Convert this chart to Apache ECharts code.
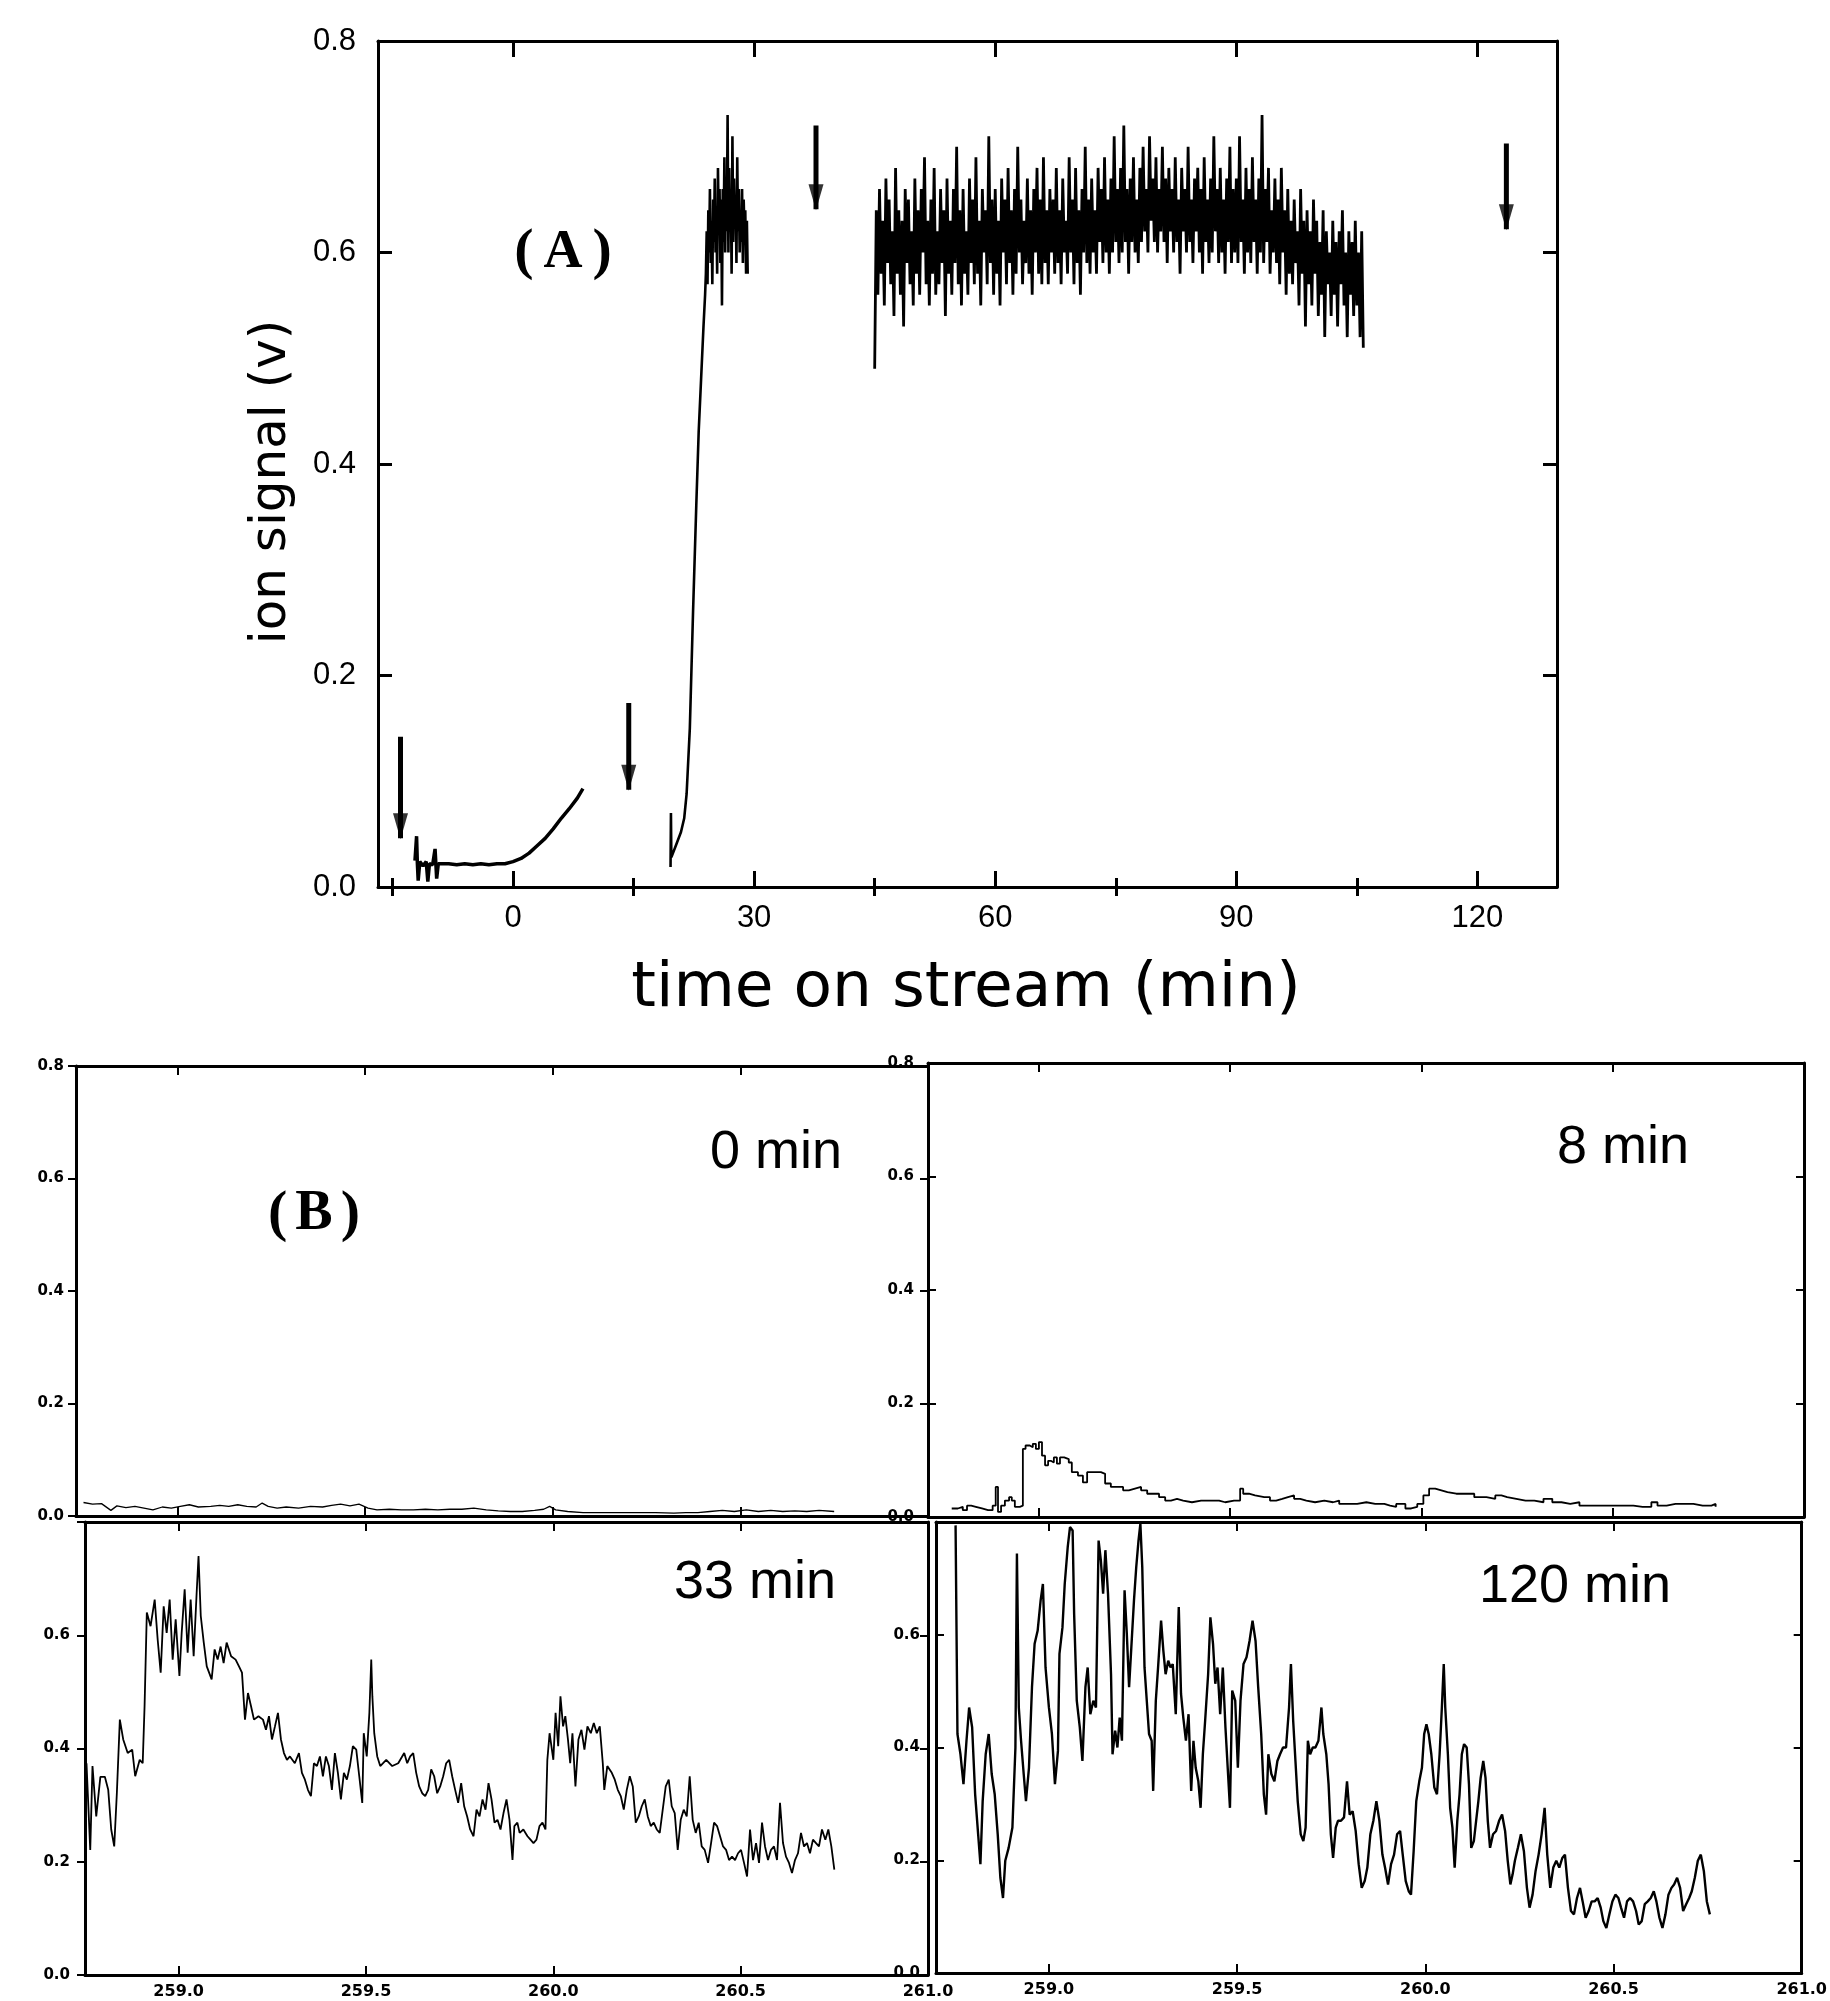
<!DOCTYPE html>
<html><head><meta charset="utf-8">
<script src="https://cdn.jsdelivr.net/npm/echarts@6/dist/echarts.min.js"></script>
<style>html,body{margin:0;padding:0;background:#fff}#c{width:1830px;height:2001px}</style>
</head><body><div id="c"></div>
<script>
// ---------- Panel A data (time on stream, min ; ion signal, V) ----------
const aMajorTicks = [0, 30, 60, 90, 120];
const aMinorTicks = [-15, 15, 45, 75, 105];
const aYTicks = [0, 0.2, 0.4, 0.6, 0.8];
const aLow = [[-12.2,0.025],[-12.0,0.048],[-11.9,0.022],[-11.8,0.006],[-11.6,0.024],[-11.2,0.020],[-10.8,0.024],[-10.6,0.005],[-10.4,0.022],[-10.0,0.021],[-9.7,0.036],[-9.5,0.008],[-9.3,0.022],[-8,0.022],[-7,0.021],[-6,0.022],[-5,0.021],[-4,0.022],[-3,0.021],[-2,0.022],[-1,0.022],[0,0.024],[1,0.027],[2,0.032],[3,0.039],[4,0.046],[5,0.055],[6,0.065],[7,0.074],[8,0.084],[8.7,0.093]];
const aRise = [[19.6,0.019],[19.65,0.07],[19.7,0.028],[20.3,0.04],[20.9,0.052],[21.3,0.065],[21.6,0.088],[22.0,0.15],[22.4,0.26],[22.8,0.36],[23.1,0.43],[23.4,0.48],[23.7,0.53],[23.9,0.56],[24.0,0.58],
[24.1,0.62],[24.2,0.57],[24.3,0.64],[24.4,0.60],[24.5,0.66],[24.6,0.59],[24.7,0.63],[24.8,0.57],[24.9,0.65],[25.0,0.61],[25.1,0.67],[25.2,0.60],[25.3,0.64],[25.4,0.58],[25.5,0.68],[25.6,0.62],[25.7,0.66],[25.8,0.59],[25.9,0.65],[26.0,0.55],[26.1,0.66],[26.2,0.61],[26.3,0.69],[26.4,0.60],[26.5,0.67],[26.6,0.62],[26.7,0.73],[26.8,0.60],[26.9,0.68],[27.0,0.62],[27.1,0.66],[27.2,0.58],[27.3,0.71],[27.4,0.61],[27.5,0.67],[27.6,0.63],[27.7,0.65],[27.8,0.59],[27.9,0.69],[28.0,0.62],[28.1,0.66],[28.2,0.60],[28.3,0.64],[28.4,0.61],[28.5,0.66],[28.6,0.59],[28.7,0.65],[28.8,0.62],[28.9,0.64],[29.0,0.58],[29.1,0.63],[29.2,0.58]];
const aBandT = [45,45.2,45.4,45.6,45.8,46,46.2,46.4,46.6,46.8,47,47.2,47.4,47.6,47.8,48,48.2,48.4,48.6,48.8,49,49.2,49.4,49.6,49.8,
50,50.2,50.4,50.6,50.8,51,51.2,51.4,51.6,51.8,52,52.2,52.4,52.6,52.8,53,53.2,53.4,53.6,53.8,54,54.2,54.4,54.6,54.8,
55,55.2,55.4,55.6,55.8,56,56.2,56.4,56.6,56.8,57,57.2,57.4,57.6,57.8,58,58.2,58.4,58.6,58.8,59,59.2,59.4,59.6,59.8,
60,60.2,60.4,60.6,60.8,61,61.2,61.4,61.6,61.8,62,62.2,62.4,62.6,62.8,63,63.2,63.4,63.6,63.8,64,64.2,64.4,64.6,64.8,
65,65.2,65.4,65.6,65.8,66,66.2,66.4,66.6,66.8,67,67.2,67.4,67.6,67.8,68,68.2,68.4,68.6,68.8,69,69.2,69.4,69.6,69.8,
70,70.2,70.4,70.6,70.8,71,71.2,71.4,71.6,71.8,72,72.2,72.4,72.6,72.8,73,73.2,73.4,73.6,73.8,74,74.2,74.4,74.6,74.8,
75,75.2,75.4,75.6,75.8,76,76.2,76.4,76.6,76.8,77,77.2,77.4,77.6,77.8,78,78.2,78.4,78.6,78.8,79,79.2,79.4,79.6,79.8,
80,80.2,80.4,80.6,80.8,81,81.2,81.4,81.6,81.8,82,82.2,82.4,82.6,82.8,83,83.2,83.4,83.6,83.8,84,84.2,84.4,84.6,84.8,
85,85.2,85.4,85.6,85.8,86,86.2,86.4,86.6,86.8,87,87.2,87.4,87.6,87.8,88,88.2,88.4,88.6,88.8,89,89.2,89.4,89.6,89.8,
90,90.2,90.4,90.6,90.8,91,91.2,91.4,91.6,91.8,92,92.2,92.4,92.6,92.8,93,93.2,93.4,93.6,93.8,94,94.2,94.4,94.6,94.8,
95,95.2,95.4,95.6,95.8,96,96.2,96.4,96.6,96.8,97,97.2,97.4,97.6,97.8,98,98.2,98.4,98.6,98.8,99,99.2,99.4,99.6,99.8,
100,100.2,100.4,100.6,100.8,101,101.2,101.4,101.6,101.8,102,102.2,102.4,102.6,102.8,103,103.2,103.4,103.6,103.8,104,104.2,104.4,104.6,104.8,
105,105.2,105.4,105.6,105.8];
const aBandV = [0.49,0.64,0.56,0.66,0.58, 0.63,0.55,0.67,0.59,0.65, 0.57,0.62,0.54,0.68,0.58, 0.64,0.56,0.63,0.53,0.66, 0.59,0.65,0.57,0.62,0.55,
0.67,0.58,0.64,0.56,0.66, 0.60,0.69,0.57,0.63,0.55, 0.65,0.58,0.68,0.56,0.62, 0.57,0.66,0.59,0.64,0.54, 0.67,0.58,0.63,0.56,0.66,
0.59,0.70,0.57,0.64,0.55, 0.66,0.58,0.62,0.56,0.67, 0.59,0.65,0.57,0.69,0.58, 0.63,0.55,0.66,0.60,0.64, 0.57,0.71,0.59,0.65,0.56,
0.66,0.58,0.63,0.55,0.67, 0.60,0.65,0.57,0.68,0.59, 0.64,0.56,0.66,0.58,0.70, 0.60,0.65,0.57,0.63,0.59, 0.67,0.58,0.64,0.56,0.66,
0.60,0.68,0.58,0.65,0.57, 0.69,0.59,0.64,0.57,0.66, 0.60,0.65,0.58,0.68,0.59, 0.64,0.57,0.67,0.60,0.63, 0.58,0.69,0.60,0.65,0.57,
0.68,0.59,0.64,0.56,0.66, 0.60,0.70,0.59,0.65,0.58, 0.67,0.60,0.64,0.58,0.68, 0.61,0.66,0.59,0.69,0.60, 0.65,0.58,0.67,0.60,0.71,
0.61,0.66,0.59,0.68,0.60, 0.72,0.61,0.66,0.58,0.67, 0.61,0.69,0.60,0.65,0.59, 0.68,0.61,0.70,0.62,0.66, 0.60,0.71,0.63,0.67,0.61,
0.69,0.60,0.66,0.62,0.70, 0.61,0.67,0.59,0.68,0.62, 0.66,0.60,0.69,0.61,0.65, 0.58,0.68,0.62,0.66,0.60, 0.70,0.61,0.65,0.59,0.67,
0.62,0.68,0.60,0.66,0.58, 0.69,0.61,0.65,0.59,0.67, 0.60,0.71,0.62,0.66,0.59, 0.68,0.60,0.65,0.58,0.67, 0.61,0.70,0.59,0.66,0.60,
0.67,0.59,0.71,0.61,0.65, 0.58,0.68,0.60,0.66,0.59, 0.69,0.61,0.65,0.58,0.67, 0.60,0.73,0.59,0.66,0.61, 0.68,0.58,0.64,0.60,0.67,
0.59,0.65,0.57,0.68,0.60, 0.64,0.56,0.66,0.58,0.63, 0.57,0.65,0.59,0.62,0.55, 0.66,0.58,0.63,0.53,0.64, 0.57,0.62,0.55,0.65,0.58,
0.63,0.54,0.61,0.56,0.64, 0.52,0.62,0.57,0.60,0.54, 0.63,0.56,0.61,0.53,0.62, 0.57,0.64,0.55,0.60,0.52, 0.62,0.56,0.61,0.54,0.63,
0.55,0.60,0.52,0.62,0.51];
const arrowX = [-14, 14.4, 37.7, 123.6];
const arrowTop = [0.142, 0.174, 0.72, 0.703];
const arrowTip = [0.046, 0.092, 0.641, 0.622];

// ---------- Panel B data (mass axis ; ion signal) ----------
const bTicks = [259.0, 259.5, 260.0, 260.5, 261.0];
const bYTicks = [0, 0.2, 0.4, 0.6, 0.8];
const bYTicksLow = [0, 0.2, 0.4, 0.6];
const b0 = [[258.750,0.024],[258.774,0.021],[258.798,0.022],[258.823,0.010],[258.839,0.018],[258.863,0.015],[258.887,0.017],[258.911,0.014],[258.935,0.011],[258.960,0.016],[258.984,0.014],[259.008,0.017],[259.032,0.020],[259.056,0.016],[259.089,0.017],[259.113,0.019],[259.137,0.017],[259.161,0.020],[259.185,0.017],[259.210,0.016],[259.226,0.023],[259.242,0.017],[259.266,0.014],[259.290,0.016],[259.323,0.014],[259.355,0.017],[259.387,0.016],[259.411,0.019],[259.435,0.021],[259.460,0.018],[259.484,0.021],[259.508,0.014],[259.532,0.011],[259.565,0.012],[259.597,0.011],[259.629,0.011],[259.661,0.012],[259.694,0.011],[259.726,0.012],[259.758,0.012],[259.790,0.014],[259.823,0.011],[259.855,0.009],[259.887,0.008],[259.919,0.008],[259.952,0.010],[259.976,0.012],[259.992,0.017],[260.008,0.011],[260.040,0.008],[260.081,0.006],[260.129,0.006],[260.177,0.006],[260.226,0.006],[260.274,0.006],[260.323,0.005],[260.355,0.006],[260.387,0.006],[260.419,0.008],[260.452,0.010],[260.484,0.008],[260.516,0.011],[260.548,0.008],[260.581,0.010],[260.613,0.008],[260.645,0.009],[260.677,0.008],[260.710,0.010],[260.750,0.008]];
const b8 = [[258.772,0.015],[258.788,0.018],[258.801,0.012],[258.812,0.02],[258.823,0.018],[258.835,0.015],[258.851,0.012],[258.867,0.012],[258.879,0.02],[258.887,0.053],[258.893,0.009],[258.901,0.02],[258.911,0.029],[258.922,0.035],[258.929,0.029],[258.937,0.018],[258.950,0.02],[258.958,0.12],[258.965,0.126],[258.976,0.123],[258.984,0.129],[258.992,0.12],[259.000,0.132],[259.008,0.108],[259.016,0.091],[259.024,0.099],[259.031,0.096],[259.039,0.105],[259.047,0.094],[259.055,0.105],[259.066,0.102],[259.078,0.096],[259.086,0.079],[259.102,0.073],[259.115,0.061],[259.126,0.079],[259.141,0.079],[259.162,0.076],[259.173,0.059],[259.188,0.053],[259.204,0.053],[259.220,0.047],[259.235,0.05],[259.251,0.053],[259.267,0.047],[259.283,0.041],[259.298,0.041],[259.314,0.035],[259.330,0.029],[259.345,0.032],[259.361,0.029],[259.377,0.026],[259.400,0.029],[259.424,0.029],[259.447,0.029],[259.471,0.026],[259.487,0.029],[259.510,0.029],[259.526,0.05],[259.534,0.041],[259.549,0.038],[259.565,0.035],[259.589,0.035],[259.604,0.029],[259.620,0.032],[259.636,0.035],[259.651,0.038],[259.667,0.032],[259.683,0.029],[259.699,0.026],[259.722,0.029],[259.746,0.026],[259.769,0.029],[259.785,0.023],[259.808,0.023],[259.832,0.026],[259.856,0.023],[259.879,0.023],[259.903,0.02],[259.918,0.018],[259.934,0.023],[259.958,0.015],[259.973,0.018],[259.989,0.023],[260.005,0.038],[260.020,0.05],[260.036,0.047],[260.052,0.044],[260.068,0.041],[260.091,0.041],[260.115,0.041],[260.138,0.035],[260.154,0.035],[260.170,0.032],[260.193,0.038],[260.209,0.035],[260.224,0.032],[260.248,0.029],[260.272,0.029],[260.295,0.026],[260.319,0.032],[260.342,0.026],[260.366,0.023],[260.389,0.026],[260.413,0.02],[260.436,0.02],[260.460,0.02],[260.484,0.02],[260.507,0.02],[260.531,0.02],[260.554,0.018],[260.578,0.018],[260.601,0.026],[260.617,0.02],[260.641,0.023],[260.664,0.023],[260.688,0.023],[260.711,0.02],[260.735,0.02],[260.758,0.023],[260.769,0.018]];
const b33 = [[258.754,0.374],[258.764,0.221],[258.770,0.369],[258.780,0.28],[258.791,0.35],[258.803,0.35],[258.812,0.327],[258.820,0.257],[258.828,0.227],[258.835,0.321],[258.843,0.451],[258.852,0.416],[258.864,0.392],[258.876,0.398],[258.884,0.351],[258.896,0.38],[258.904,0.374],[258.909,0.475],[258.915,0.64],[258.925,0.616],[258.936,0.663],[258.944,0.592],[258.952,0.534],[258.960,0.651],[258.968,0.604],[258.976,0.663],[258.984,0.557],[258.992,0.628],[259.002,0.528],[259.008,0.604],[259.016,0.681],[259.024,0.569],[259.032,0.663],[259.040,0.563],[259.048,0.675],[259.053,0.74],[259.059,0.634],[259.067,0.587],[259.075,0.545],[259.088,0.522],[259.096,0.575],[259.104,0.557],[259.112,0.58],[259.120,0.551],[259.128,0.587],[259.140,0.563],[259.152,0.557],[259.161,0.545],[259.169,0.534],[259.177,0.451],[259.185,0.498],[259.193,0.475],[259.201,0.451],[259.213,0.457],[259.225,0.451],[259.233,0.433],[259.241,0.457],[259.249,0.416],[259.257,0.439],[259.265,0.463],[259.273,0.416],[259.281,0.392],[259.289,0.38],[259.297,0.386],[259.310,0.374],[259.321,0.392],[259.329,0.357],[259.337,0.345],[259.345,0.327],[259.353,0.316],[259.361,0.374],[259.369,0.369],[259.377,0.386],[259.385,0.351],[259.393,0.386],[259.401,0.369],[259.409,0.327],[259.417,0.392],[259.425,0.357],[259.433,0.31],[259.441,0.357],[259.449,0.345],[259.457,0.369],[259.465,0.404],[259.474,0.398],[259.482,0.351],[259.490,0.304],[259.494,0.427],[259.502,0.386],[259.509,0.463],[259.514,0.557],[259.517,0.492],[259.522,0.427],[259.530,0.386],[259.538,0.369],[259.554,0.38],[259.570,0.369],[259.586,0.374],[259.602,0.392],[259.610,0.374],[259.618,0.386],[259.626,0.392],[259.634,0.357],[259.642,0.333],[259.650,0.321],[259.658,0.316],[259.666,0.327],[259.674,0.363],[259.682,0.351],[259.690,0.321],[259.698,0.333],[259.706,0.351],[259.714,0.374],[259.722,0.38],[259.730,0.351],[259.738,0.327],[259.746,0.304],[259.754,0.339],[259.762,0.298],[259.770,0.28],[259.778,0.257],[259.787,0.245],[259.795,0.292],[259.803,0.28],[259.811,0.31],[259.819,0.292],[259.827,0.339],[259.835,0.31],[259.843,0.269],[259.851,0.274],[259.859,0.257],[259.867,0.286],[259.875,0.31],[259.883,0.274],[259.891,0.203],[259.896,0.263],[259.904,0.269],[259.910,0.251],[259.920,0.257],[259.931,0.245],[259.939,0.239],[259.947,0.233],[259.955,0.239],[259.963,0.263],[259.971,0.269],[259.979,0.257],[259.984,0.38],[259.990,0.427],[260.000,0.38],[260.006,0.463],[260.013,0.404],[260.019,0.492],[260.026,0.439],[260.032,0.457],[260.039,0.416],[260.045,0.374],[260.051,0.427],[260.059,0.333],[260.067,0.416],[260.075,0.433],[260.083,0.398],[260.091,0.439],[260.100,0.427],[260.108,0.445],[260.116,0.427],[260.124,0.439],[260.132,0.374],[260.136,0.327],[260.144,0.369],[260.156,0.357],[260.164,0.345],[260.172,0.327],[260.180,0.316],[260.188,0.292],[260.196,0.327],[260.204,0.351],[260.212,0.333],[260.220,0.269],[260.228,0.28],[260.236,0.298],[260.244,0.31],[260.252,0.28],[260.260,0.263],[260.268,0.269],[260.276,0.257],[260.284,0.251],[260.292,0.292],[260.300,0.333],[260.308,0.345],[260.316,0.298],[260.324,0.286],[260.332,0.221],[260.340,0.274],[260.348,0.292],[260.356,0.28],[260.364,0.351],[260.372,0.274],[260.380,0.251],[260.388,0.269],[260.396,0.227],[260.404,0.221],[260.413,0.198],[260.421,0.233],[260.429,0.269],[260.437,0.263],[260.445,0.245],[260.453,0.227],[260.461,0.221],[260.469,0.203],[260.477,0.209],[260.485,0.203],[260.493,0.215],[260.501,0.221],[260.509,0.198],[260.517,0.174],[260.525,0.257],[260.533,0.203],[260.541,0.233],[260.549,0.198],[260.557,0.269],[260.565,0.227],[260.573,0.203],[260.581,0.221],[260.589,0.227],[260.597,0.203],[260.605,0.304],[260.613,0.233],[260.621,0.209],[260.629,0.198],[260.637,0.18],[260.645,0.203],[260.653,0.215],[260.661,0.251],[260.669,0.227],[260.677,0.233],[260.685,0.215],[260.693,0.239],[260.701,0.233],[260.709,0.227],[260.717,0.257],[260.726,0.239],[260.734,0.257],[260.742,0.227],[260.750,0.186]];
const b120 = [[258.752,0.794],[258.757,0.424],[258.765,0.388],[258.773,0.335],[258.781,0.412],[258.788,0.471],[258.796,0.436],[258.804,0.317],[258.812,0.246],[258.818,0.193],[258.824,0.305],[258.832,0.388],[258.840,0.424],[258.848,0.353],[258.856,0.317],[258.864,0.246],[258.871,0.169],[258.878,0.133],[258.884,0.199],[258.893,0.222],[258.903,0.258],[258.911,0.4],[258.915,0.744],[258.920,0.471],[258.926,0.412],[258.933,0.353],[258.939,0.305],[258.947,0.364],[258.955,0.507],[258.962,0.584],[258.970,0.607],[258.978,0.661],[258.984,0.69],[258.991,0.542],[259.000,0.471],[259.008,0.424],[259.016,0.335],[259.024,0.394],[259.028,0.566],[259.036,0.613],[259.042,0.69],[259.050,0.756],[259.056,0.791],[259.063,0.785],[259.067,0.637],[259.074,0.483],[259.082,0.436],[259.089,0.376],[259.097,0.507],[259.103,0.542],[259.110,0.459],[259.118,0.483],[259.125,0.471],[259.132,0.767],[259.138,0.732],[259.144,0.673],[259.150,0.75],[259.157,0.673],[259.165,0.53],[259.169,0.388],[259.176,0.43],[259.182,0.4],[259.188,0.453],[259.194,0.412],[259.201,0.679],[259.207,0.601],[259.213,0.507],[259.219,0.578],[259.226,0.661],[259.232,0.72],[259.238,0.767],[259.243,0.797],[259.248,0.72],[259.254,0.542],[259.260,0.483],[259.266,0.424],[259.273,0.412],[259.277,0.323],[259.284,0.483],[259.290,0.542],[259.298,0.625],[259.304,0.572],[259.310,0.53],[259.317,0.554],[259.323,0.542],[259.329,0.548],[259.337,0.459],[259.345,0.649],[259.351,0.495],[259.357,0.453],[259.364,0.412],[259.371,0.459],[259.378,0.323],[259.384,0.412],[259.390,0.364],[259.397,0.34],[259.403,0.293],[259.409,0.388],[259.415,0.447],[259.423,0.53],[259.429,0.631],[259.436,0.584],[259.442,0.513],[259.448,0.542],[259.455,0.459],[259.462,0.542],[259.469,0.436],[259.475,0.364],[259.481,0.293],[259.487,0.501],[259.495,0.483],[259.502,0.364],[259.509,0.483],[259.517,0.548],[259.525,0.56],[259.533,0.589],[259.541,0.625],[259.549,0.589],[259.556,0.507],[259.564,0.424],[259.571,0.317],[259.577,0.281],[259.583,0.388],[259.591,0.353],[259.599,0.34],[259.607,0.376],[259.614,0.388],[259.622,0.4],[259.630,0.4],[259.638,0.471],[259.643,0.548],[259.649,0.447],[259.655,0.376],[259.661,0.305],[259.669,0.246],[259.676,0.234],[259.682,0.258],[259.688,0.412],[259.694,0.388],[259.701,0.4],[259.708,0.4],[259.716,0.412],[259.724,0.471],[259.729,0.424],[259.737,0.388],[259.743,0.335],[259.749,0.246],[259.755,0.204],[259.762,0.258],[259.768,0.27],[259.776,0.27],[259.784,0.276],[259.792,0.34],[259.799,0.281],[259.807,0.287],[259.815,0.252],[259.823,0.193],[259.831,0.151],[259.839,0.163],[259.846,0.187],[259.854,0.246],[259.862,0.27],[259.870,0.305],[259.878,0.27],[259.886,0.21],[259.893,0.187],[259.901,0.157],[259.909,0.193],[259.917,0.21],[259.925,0.246],[259.933,0.252],[259.940,0.21],[259.948,0.163],[259.956,0.145],[259.962,0.139],[259.969,0.216],[259.976,0.305],[259.984,0.34],[259.991,0.364],[259.997,0.424],[260.003,0.441],[260.009,0.424],[260.016,0.388],[260.024,0.329],[260.031,0.317],[260.038,0.388],[260.044,0.471],[260.049,0.548],[260.053,0.471],[260.060,0.388],[260.066,0.293],[260.072,0.258],[260.078,0.187],[260.085,0.27],[260.091,0.317],[260.097,0.388],[260.103,0.406],[260.110,0.4],[260.116,0.335],[260.122,0.222],[260.129,0.234],[260.135,0.27],[260.141,0.305],[260.147,0.346],[260.154,0.376],[260.160,0.346],[260.166,0.27],[260.172,0.222],[260.180,0.246],[260.188,0.252],[260.196,0.27],[260.204,0.281],[260.212,0.252],[260.219,0.199],[260.226,0.157],[260.232,0.175],[260.238,0.199],[260.246,0.222],[260.254,0.246],[260.262,0.216],[260.270,0.151],[260.277,0.116],[260.285,0.139],[260.293,0.181],[260.301,0.21],[260.309,0.246],[260.317,0.293],[260.324,0.21],[260.332,0.151],[260.340,0.187],[260.348,0.199],[260.356,0.187],[260.364,0.204],[260.371,0.21],[260.379,0.151],[260.387,0.11],[260.395,0.104],[260.403,0.133],[260.411,0.151],[260.418,0.127],[260.426,0.098],[260.434,0.11],[260.442,0.127],[260.450,0.127],[260.458,0.133],[260.466,0.116],[260.473,0.092],[260.481,0.08],[260.489,0.104],[260.497,0.127],[260.505,0.139],[260.513,0.133],[260.520,0.116],[260.528,0.098],[260.536,0.127],[260.544,0.133],[260.552,0.127],[260.560,0.11],[260.567,0.086],[260.575,0.092],[260.583,0.122],[260.591,0.127],[260.599,0.133],[260.607,0.145],[260.614,0.127],[260.622,0.098],[260.630,0.08],[260.638,0.104],[260.646,0.139],[260.654,0.151],[260.661,0.157],[260.669,0.169],[260.677,0.151],[260.685,0.11],[260.693,0.122],[260.701,0.133],[260.708,0.145],[260.716,0.169],[260.724,0.199],[260.732,0.21],[260.740,0.181],[260.748,0.127],[260.756,0.104]];

// ---------- build ----------
const aBand = aBandT.map((t, i) => [t, aBandV[i]]);
const BLACK = '#000';
const SANS = "'Liberation Sans', Arial, sans-serif";
const xAxes = [], yAxes = [], grids = [];

grids.push({left: 378, top: 41, width: 1179, height: 846});   // A
grids.push({left: 76, top: 1066, width: 852, height: 450});   // B 0 min
grids.push({left: 928, top: 1063, width: 876, height: 454});  // B 8 min
grids.push({left: 85, top: 1522, width: 843, height: 453});   // B 33 min
grids.push({left: 936, top: 1522, width: 870, height: 451});  // B 120 min

const frameLine = {show: true, onZero: false, lineStyle: {color: BLACK, width: 3}};
// Panel A axes
const aX = {type: 'value', gridIndex: 0, min: -16.8, max: 129.9, splitLine: {show: false}};
xAxes.push(Object.assign({}, aX, {position: 'bottom', axisLine: frameLine,
  axisTick: {show: true, inside: true, length: 16, customValues: aMajorTicks, lineStyle: {color: BLACK, width: 3}},
  axisLabel: {show: true, customValues: aMajorTicks, fontSize: 31, fontFamily: SANS, color: BLACK, margin: 16}}));
xAxes.push(Object.assign({}, aX, {position: 'top', axisLine: frameLine,
  axisTick: {show: true, inside: true, length: 16, customValues: aMajorTicks, lineStyle: {color: BLACK, width: 3}},
  axisLabel: {show: false}}));
xAxes.push(Object.assign({}, aX, {position: 'bottom', axisLine: {show: false},
  axisTick: {show: true, inside: true, length: 9, customValues: aMinorTicks, lineStyle: {color: BLACK, width: 3}},
  axisLabel: {show: false}}));
xAxes.push(Object.assign({}, aX, {position: 'top', axisLine: {show: false},
  axisTick: {show: true, inside: true, length: 9, customValues: aMinorTicks, lineStyle: {color: BLACK, width: 3}},
  axisLabel: {show: false}}));
const aY = {type: 'value', gridIndex: 0, min: 0, max: 0.8, interval: 0.2, splitLine: {show: false}, axisLine: frameLine};
yAxes.push(Object.assign({}, aY, {position: 'left',
  axisTick: {show: true, inside: true, length: 14, customValues: aYTicks, lineStyle: {color: BLACK, width: 3}},
  axisLabel: {show: true, customValues: aYTicks, formatter: v => v.toFixed(1), fontSize: 31, fontFamily: SANS, color: BLACK, margin: 22}}));
yAxes.push(Object.assign({}, aY, {position: 'right',
  axisTick: {show: true, inside: true, length: 14, customValues: aYTicks, lineStyle: {color: BLACK, width: 3}},
  axisLabel: {show: false}}));

// Panel B axes
function bAxes(g, xmin, xmax, showXLab, yLabVals, leftOut, yMargin) {
  const bx = {type: 'value', gridIndex: g, min: xmin, max: xmax, splitLine: {show: false}, axisLine: frameLine};
  const tk = {show: true, inside: true, length: 9, customValues: bTicks, lineStyle: {color: BLACK, width: 2}};
  xAxes.push(Object.assign({}, bx, {position: 'bottom', axisTick: tk,
    axisLabel: {show: showXLab, customValues: bTicks, formatter: v => v.toFixed(1), fontSize: 16, fontWeight: 'bold',
      fontFamily: "'DejaVu Sans'", color: BLACK, margin: 9}}));
  xAxes.push(Object.assign({}, bx, {position: 'top', axisTick: tk, axisLabel: {show: false}}));
  const by = {type: 'value', gridIndex: g, min: 0, max: 0.8, interval: 0.2, splitLine: {show: false}, axisLine: frameLine};
  yAxes.push(Object.assign({}, by, {position: 'left',
    axisTick: {show: true, inside: !leftOut, length: 8, customValues: bYTicks, lineStyle: {color: BLACK, width: 2}},
    axisLabel: {show: true, customValues: yLabVals, formatter: v => v.toFixed(1), fontSize: 15, fontWeight: 'bold',
      fontFamily: "'DejaVu Sans'", color: BLACK, margin: yMargin}}));
  yAxes.push(Object.assign({}, by, {position: 'right',
    axisTick: {show: true, inside: true, length: 8, customValues: bYTicks, lineStyle: {color: BLACK, width: 2}},
    axisLabel: {show: false}}));
}
bAxes(1, 258.73, 261.0, false, bYTicks, true, 12);
bAxes(2, 258.71, 261.0, false, bYTicks, false, 14);
bAxes(3, 258.75, 261.0, true, bYTicksLow, true, 15);
bAxes(4, 258.70, 261.0, true, bYTicksLow, false, 16);

function line(data, xi, yi, w, extra) {
  return Object.assign({type: 'line', data: data, xAxisIndex: xi, yAxisIndex: yi, symbol: 'none', showSymbol: false,
    silent: true, animation: false, clip: true, lineStyle: {color: BLACK, width: w}}, extra || {});
}

const series = [
  line(aLow, 0, 0, 3.5),
  line(aRise, 0, 0, 2.6),
  line(aBand, 0, 0, 2.8),
  line(b0, 4, 2, 1.3),
  line(b8, 6, 4, 1.8, {step: 'end'}),
  line(b33, 8, 6, 1.8),
  line(b120, 10, 8, 2.4)
];
// arrow shafts
arrowX.forEach((x, i) => series.push(line([[x, arrowTop[i]], [x, arrowTip[i]]], 0, 0, 5)));
// arrow heads
series.push({type: 'scatter', xAxisIndex: 0, yAxisIndex: 0, silent: true, animation: false,
  data: arrowX.map((x, i) => [x, arrowTip[i]]), symbol: 'triangle', symbolRotate: 180,
  symbolSize: [15, 26], symbolOffset: [0, -12], itemStyle: {color: BLACK}});

function txt(text, x, y, font, align, rot) {
  return {type: 'text', x: x, y: y, rotation: rot || 0, silent: true,
    style: {text: text, font: font, fill: BLACK, textAlign: align || 'center', textVerticalAlign: 'middle'}};
}
function label(letter, x, y, pSize, lSize, pad) {
  return {type: 'text', x: x, y: y, silent: true,
    style: {text: '{p|(}{a|' + letter + '}{p|)}', textAlign: 'center', textVerticalAlign: 'middle', fill: BLACK,
      rich: {p: {fontFamily: "'Liberation Serif'", fontSize: pSize, fontWeight: 'bold', fill: BLACK},
             a: {fontFamily: "'Liberation Serif'", fontSize: lSize, fontWeight: 'bold', fill: BLACK, padding: [0, pad, 0, pad]}}}};
}
const graphic = [
  label('A', 563, 253, 58, 54, 10),
  label('B', 314, 1215, 58, 56, 8),
  txt('0 min', 842, 1153, "54px 'Liberation Sans', sans-serif", 'right'),
  txt('8 min', 1689, 1148, "54px 'Liberation Sans', sans-serif", 'right'),
  txt('33 min', 836, 1583, "54px 'Liberation Sans', sans-serif", 'right'),
  txt('120 min', 1671, 1587, "54px 'Liberation Sans', sans-serif", 'right'),
  txt('time on stream (min)', 966, 990, "63px 'DejaVu Sans', sans-serif"),
  txt('ion signal (v)', 272, 482, "50px 'DejaVu Sans', sans-serif", 'center', Math.PI / 2)
];

const chart = echarts.init(document.getElementById('c'), null, {renderer: 'canvas', width: 1830, height: 2001});
chart.setOption({
  backgroundColor: '#fff',
  animation: false,
  grid: grids,
  xAxis: xAxes,
  yAxis: yAxes,
  series: series,
  graphic: graphic
});
</script></body></html>
